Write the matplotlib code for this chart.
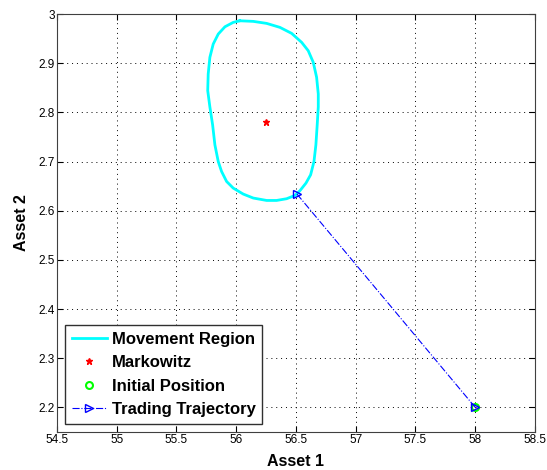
import matplotlib.pyplot as plt

# movement region outline (closed curve)
region_x = [56.031, 56.143, 56.255, 56.366, 56.464, 56.548, 56.603, 56.645, 56.673,
            56.687, 56.687, 56.678, 56.667, 56.651, 56.623, 56.584, 56.533, 56.492,
            56.422, 56.338, 56.255, 56.143, 56.059, 55.975, 55.920, 55.878, 55.850,
            55.822, 55.803, 55.780, 55.762, 55.766, 55.780, 55.808, 55.850, 55.906,
            55.975, 56.031]
region_y = [2.9864, 2.9852, 2.9811, 2.9730, 2.9608, 2.9425, 2.9255, 2.9019, 2.8715,
            2.8376, 2.8112, 2.7746, 2.7340, 2.7001, 2.6731, 2.6562, 2.6406, 2.6311,
            2.6244, 2.6209, 2.6209, 2.6258, 2.6339, 2.6461, 2.6595, 2.6798, 2.7001,
            2.7340, 2.7746, 2.8112, 2.8443, 2.8782, 2.9121, 2.9391, 2.9594, 2.9742,
            2.9831, 2.9864]

markowitz = (56.25, 2.78)
initial = (58.0, 2.2)
traj_x = [58.0, 56.505]
traj_y = [2.2, 2.635]

xticks = [54.5, 55, 55.5, 56, 56.5, 57, 57.5, 58, 58.5]
yticks = [2.2, 2.3, 2.4, 2.5, 2.6, 2.7, 2.8, 2.9, 3.0]
ytick_labels = ['2.2', '2.3', '2.4', '2.5', '2.6', '2.7', '2.8', '2.9', '3']

plt.rcParams['font.family'] = ['Liberation Sans', 'DejaVu Sans']

fig = plt.figure(figsize=(5.47, 4.70), dpi=100)
ax = fig.add_axes([0.104, 0.081, 0.874, 0.889])

ax.plot(region_x, region_y, color='cyan', lw=2, solid_joinstyle='round',
        label='Movement Region')
ax.plot(*markowitz, marker='*', color='red', ls='none', ms=5, label='Markowitz')
ax.plot(*initial, marker='o', mfc='none', mec='#00ff00', mew=1.5, ls='none', ms=5,
        label='Initial Position')
ax.plot(traj_x, traj_y, color='blue', ls='-.', lw=0.8, marker='>', mfc='none',
        mec='blue', ms=6, label='Trading Trajectory')

ax.set_xlim(54.5, 58.5)
ax.set_ylim(2.15, 3.0)
ax.set_xticks(xticks)
ax.set_xticklabels([('%g' % v) for v in xticks])
ax.set_yticks(yticks)
ax.set_yticklabels(ytick_labels)
ax.tick_params(direction='in', top=True, right=True, labelsize=8.5, length=4, pad=1.5)
ax.grid(True, color='black', ls=(0, (1, 4)), lw=0.7)
for s in ax.spines.values():
    s.set_color('#404040')

ax.set_xlabel('Asset 1', fontsize=11.5, fontweight='bold', labelpad=6)
ax.set_ylabel('Asset 2', fontsize=11.5, fontweight='bold', labelpad=7)

leg = ax.legend(loc='lower left', prop={'weight': 'bold', 'size': 12},
                fancybox=False, edgecolor='#303030', framealpha=1,
                handlelength=2.1, handletextpad=0.3, borderaxespad=0.5,
                labelspacing=0.5)
leg.get_frame().set_linewidth(1.0)

fig.savefig('out.png', dpi=100)
